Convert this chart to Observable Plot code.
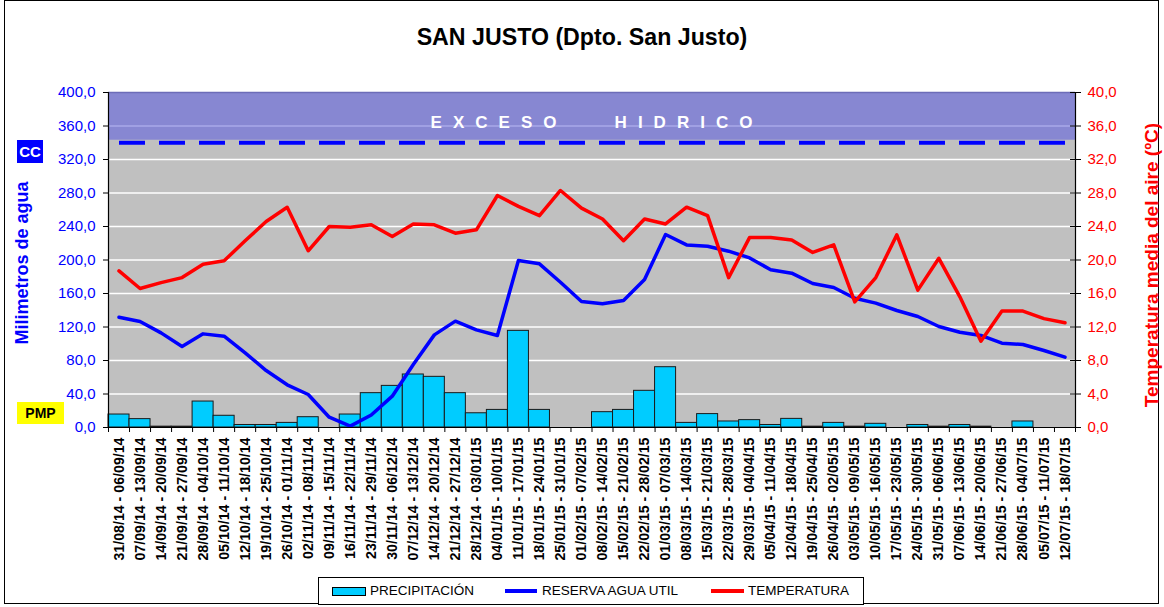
<!DOCTYPE html>
<html>
<head>
<meta charset="utf-8">
<script src="https://cdn.jsdelivr.net/npm/d3@7"></script>
<script src="https://cdn.jsdelivr.net/npm/@observablehq/plot@0.6"></script>
<style>
  body { margin: 0; background: #fff; font-family: "Liberation Sans", Arial, sans-serif; }
  #wrap { position: relative; width: 1164px; height: 607px; overflow: hidden; background: #fff; }
  #border { position: absolute; left: 4px; top: 0px; width: 1155px; height: 604px; border: 1px solid #000; box-sizing: border-box; }
  #title { position: absolute; left: 0; top: 24px; width: 1164px; text-align: center; font-weight: bold; font-size: 23.2px; line-height: 26px; color: #000; }
  #chart { position: absolute; left: 0; top: 0; }
  #cc { position: absolute; left: 17px; top: 140px; width: 26px; height: 23px; background: #0000ff; color: #fff; font-weight: bold; font-size: 15px; line-height: 23px; text-align: center; }
  #pmp { position: absolute; left: 17px; top: 402px; width: 47px; height: 22px; background: #ffff00; color: #000; font-weight: bold; font-size: 14px; line-height: 22px; text-align: center; }
  #legend { position: absolute; left: 318px; top: 577px; width: 546px; height: 28px; border: 1px solid #000; box-sizing: border-box; background: #fff; font-size: 13.5px; color: #000; }
  #legend .it { position: absolute; top: 0; line-height: 26px; white-space: nowrap; }
  #legend .sw { position: absolute; }
</style>
</head>
<body>
<div id="wrap">
  <div id="border"></div>
  <div id="chart"></div>
  <div id="title">SAN JUSTO (Dpto. San Justo)</div>
  <div id="cc">CC</div>
  <div id="pmp">PMP</div>
  <div id="legend"></div>
</div>
<script>
// ---- data ----
const categories = [
  "31/08/14 - 06/09/14","07/09/14 - 13/09/14","14/09/14 - 20/09/14","21/09/14 - 27/09/14",
  "28/09/14 - 04/10/14","05/10/14 - 11/10/14","12/10/14 - 18/10/14","19/10/14 - 25/10/14",
  "26/10/14 - 01/11/14","02/11/14 - 08/11/14","09/11/14 - 15/11/14","16/11/14 - 22/11/14",
  "23/11/14 - 29/11/14","30/11/14 - 06/12/14","07/12/14 - 13/12/14","14/12/14 - 20/12/14",
  "21/12/14 - 27/12/14","28/12/14 - 03/01/15","04/01/15 - 10/01/15","11/01/15 - 17/01/15",
  "18/01/15 - 24/01/15","25/01/15 - 31/01/15","01/02/15 - 07/02/15","08/02/15 - 14/02/15",
  "15/02/15 - 21/02/15","22/02/15 - 28/02/15","01/03/15 - 07/03/15","08/03/15 - 14/03/15",
  "15/03/15 - 21/03/15","22/03/15 - 28/03/15","29/03/15 - 04/04/15","05/04/15 - 11/04/15",
  "12/04/15 - 18/04/15","19/04/15 - 25/04/15","26/04/15 - 02/05/15","03/05/15 - 09/05/15",
  "10/05/15 - 16/05/15","17/05/15 - 23/05/15","24/05/15 - 30/05/15","31/05/15 - 06/06/15",
  "07/06/15 - 13/06/15","14/06/15 - 20/06/15","21/06/15 - 27/06/15","28/06/15 - 04/07/15",
  "05/07/15 - 11/07/15","12/07/15 - 18/07/15"
];
const precipitacion = [
  15.5, 10, 1, 1, 31, 14, 3, 3, 5.5, 12.3,
  0, 15.5, 41, 49.7, 63.3, 60.5, 41, 17, 21, 115.4,
  21, 0, 0, 18.3, 21, 43.8, 72, 5.5, 16, 7.2,
  8.8, 3, 10.3, 1, 5.5, 1, 4.4, 0, 3, 1,
  3, 1, 0, 7.2, 0, 0
];
const reservaAguaUtil = [
  131.7, 126.6, 113, 96.7, 111.8, 109, 89.2, 68, 51, 39.4,
  12.3, 1.6, 15, 37.4, 75.2, 110.6, 127, 116.6, 109.9, 199.4,
  195.4, 173.5, 150.4, 147.7, 151.6, 176.7, 230.4, 218, 216.5, 210.5,
  202.5, 188.3, 184.3, 171.9, 167.2, 154.4, 148.5, 139.7, 132.5, 120.6,
  113.8, 109.9, 100.7, 99.1, 91.9, 84
];
const temperatura = [
  18.7, 16.6, 17.3, 17.9, 19.5, 19.9, 22.3, 24.6, 26.3, 21.1,
  24.0, 23.9, 24.2, 22.8, 24.3, 24.2, 23.2, 23.6, 27.7, 26.4,
  25.3, 28.3, 26.2, 24.9, 22.3, 24.9, 24.3, 26.3, 25.3, 17.9,
  22.7, 22.7, 22.4, 20.9, 21.8, 15.0, 17.9, 23.0, 16.4, 20.2,
  15.6, 10.3, 13.9, 13.9, 13.0, 12.5
];
const yTicksMM = [0, 40, 80, 120, 160, 200, 240, 280, 320, 360, 400];
const yMax = 400;          // mm
const cc = 340;            // capacidad de campo (mm)
const excesoFloor = 343;   // bottom of "exceso hidrico" band (mm)
const tempToMM = 10;       // right axis: 40 ºC <-> 400 mm
const excesoLabel = "EXCESO   HIDRICO";
const legendItems = [
  {label: "PRECIPITACIÓN", kind: "rect", color: "#00ccff"},
  {label: "RESERVA AGUA UTIL", kind: "line", color: "#0000ff"},
  {label: "TEMPERATURA", kind: "line", color: "#ff0000"}
];

// ---- chart ----
const n = categories.length;
const table = categories.map((c, i) => ({i, cat: c, prec: precipitacion[i], res: reservaAguaUtil[i], temp: temperatura[i]}));
const fmt = d => d.toFixed(1).replace(".", ",");
const W = 1164, H = 575, ML = 108, MR = 89, MT = 92, MB = 148;
const innerW = W - ML - MR;

const chart = Plot.plot({
  width: W, height: H,
  marginLeft: ML, marginRight: MR, marginTop: MT, marginBottom: MB,
  style: {fontFamily: '"Liberation Sans", Arial, sans-serif', fontSize: "14px", background: "transparent", overflow: "visible", color: "black"},
  x: {domain: [0, n], axis: null},
  y: {domain: [0, yMax], axis: null},
  marks: [
    Plot.frame({fill: "#c0c0c0", stroke: "none"}),
    Plot.ruleY(yTicksMM.filter(d => d > 0 && d < excesoFloor), {stroke: "white", strokeWidth: 1.5}),
    Plot.rect([{lo: excesoFloor, hi: yMax}], {x1: () => 0, x2: () => n, y1: "lo", y2: "hi", fill: "#8787d2"}),
    Plot.ruleY(yTicksMM.filter(d => d > excesoFloor && d < yMax), {stroke: "#a8a8e8", strokeWidth: 1.5}),
    Plot.ruleY([yMax], {stroke: "#6c6cb8", strokeWidth: 1.5}),
    Plot.ruleY([cc], {stroke: "#0000ff", strokeWidth: 4, strokeDasharray: "26,14", strokeDashoffset: 29}),
    Plot.text([excesoLabel], {frameAnchor: "top", dy: 23, dx: 5, fill: "white", fontWeight: "bold", fontSize: 17}),
    Plot.rectY(table, {x1: "i", x2: d => d.i + 1, y: "prec", fill: "#00ccff", stroke: "#1a1a1a", strokeWidth: 1}),
    Plot.lineY(table, {x: d => d.i + 0.5, y: "res", stroke: "#0000ff", strokeWidth: 3.5}),
    Plot.lineY(table, {x: d => d.i + 0.5, y: d => d.temp * tempToMM, stroke: "#ff0000", strokeWidth: 3.5}),
    Plot.ruleX([0, n], {stroke: "black", strokeWidth: 1.2}),
    Plot.ruleY([0], {stroke: "black", strokeWidth: 1.2}),
    Plot.ruleY(yTicksMM, {insetLeft: innerW - 5, stroke: "black"}),
    Plot.axisY({ticks: yTicksMM, tickFormat: fmt, anchor: "left", tickSize: 5, tickPadding: 8, stroke: "black", fill: "#0000ff", label: null}),
    Plot.axisY({ticks: yTicksMM, tickFormat: d => fmt(d / tempToMM), anchor: "right", tickSize: 5, tickPadding: 7, stroke: "black", fill: "#ff0000", label: null}),
    Plot.axisX({ticks: d3.range(n + 1), tickFormat: () => "", tickSize: 5, stroke: "black", label: null}),
    Plot.axisX({ticks: d3.range(n).map(i => i + 0.5), tickFormat: d => categories[Math.floor(d)], tickRotate: -90, tickSize: 0, tickPadding: 10, fill: "black", label: null}),
    Plot.text(["Milimetros de agua"], {frameAnchor: "left", textAnchor: "middle", dx: -86, dy: 3, rotate: -90, fill: "#0000ff", fontWeight: "bold", fontSize: 18}),
    Plot.text(["Temperatura media del aire (ºC)"], {frameAnchor: "right", textAnchor: "middle", dx: 76, dy: 5, rotate: -90, fill: "#ff0000", fontWeight: "bold", fontSize: 19})
  ]
});
document.getElementById("chart").appendChild(chart);

// text styling of axes
const svg = d3.select(chart);
const catSet = new Set(categories);
const yLabelSet = new Set(yTicksMM.map(fmt).concat(yTicksMM.map(d => fmt(d / tempToMM))));
svg.selectAll("text").each(function() {
  const t = this.textContent;
  if (catSet.has(t)) { this.style.fontSize = "14.2px"; this.style.fontWeight = "bold"; }
  else if (yLabelSet.has(t)) { this.style.fontSize = "15px"; }
  else if (t === excesoLabel) { this.style.letterSpacing = "11px"; this.style.whiteSpace = "pre"; }
});

// ---- legend ----
const legend = document.getElementById("legend");
const itemPos = [
  {sw: 13, swW: 34, tx: 51},
  {sw: 186, swW: 32, tx: 223},
  {sw: 392, swW: 33, tx: 429}
];
legendItems.forEach((it, k) => {
  const p = itemPos[k];
  const sw = document.createElement("span");
  sw.className = "sw";
  sw.style.left = p.sw + "px";
  sw.style.width = p.swW + "px";
  if (it.kind === "rect") {
    sw.style.top = "9px"; sw.style.height = "9px";
    sw.style.background = it.color; sw.style.border = "1px solid #000"; sw.style.boxSizing = "border-box";
  } else {
    sw.style.top = "11px"; sw.style.height = "4px"; sw.style.background = it.color;
  }
  legend.appendChild(sw);
  const tx = document.createElement("span");
  tx.className = "it";
  tx.style.left = p.tx + "px";
  tx.textContent = it.label;
  legend.appendChild(tx);
});
</script>
</body>
</html>
